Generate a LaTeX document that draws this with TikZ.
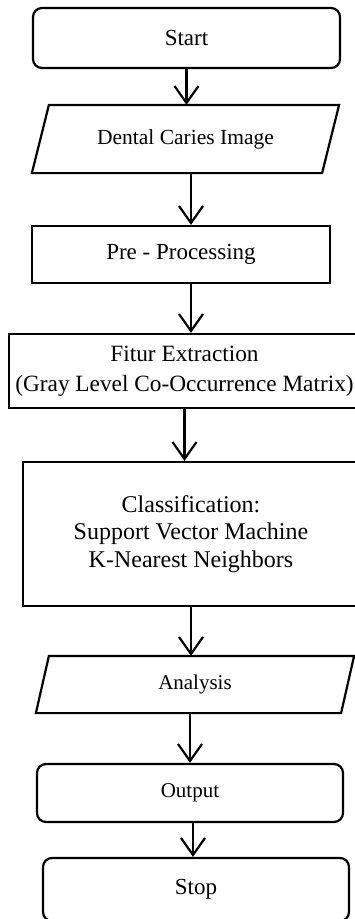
\documentclass[tikz,border=0pt]{standalone}
\usepackage{fontspec}
\setmainfont{Liberation Serif}
\usetikzlibrary{arrows.meta}

\begin{document}
\begin{tikzpicture}[x=1pt, y=-1pt, line width=2.2pt,
	every node/.style={font=\fontsize{21}{28}\selectfont, align=center, inner sep=0pt},
	terminal/.style={draw, rectangle, rounded corners=9pt},
	process/.style={draw, rectangle},
	io/.style={rectangle},
	flow/.style={-{Straight Barb[length=17pt, width=24pt]}}]
		%\draw[lightgray] (0, 0) grid (355, 919);
		\useasboundingbox (0, 0) rectangle (355, 919);
		\clip (0, 0) rectangle (355, 919);
		
		\node[terminal, minimum width=307pt, minimum height=60pt, font=\fontsize{23}{28}\selectfont] (start) at (186.5, 38) {Start};
		\node[io, minimum width=288pt, minimum height=66pt, font=\fontsize{21.5}{28}\selectfont] (image) at (185.5, 139) {Dental Caries Image};
		\node[process, minimum width=298pt, minimum height=57pt, font=\fontsize{23}{28}\selectfont] (prep) at (181, 254.5) {Pre - Processing};
		\node[process, minimum width=351pt, minimum height=74pt, font=\fontsize{23.3}{30}\selectfont] (glcm) at (184.5, 371) {Fitur Extraction\\(Gray Level Co-Occurrence Matrix)};
		\node[process, minimum width=336pt, minimum height=144pt, font=\fontsize{24}{27.5}\selectfont] (class) at (191, 534) {Classification:\\Support Vector Machine\\K-Nearest Neighbors};
		\node[io, minimum width=303pt, minimum height=55pt] (analysis) at (195, 684.5) {Analysis};
		\node[terminal, minimum width=306pt, minimum height=58pt] (output) at (190, 793) {Output};
		\node[terminal, minimum width=306pt, minimum height=63pt, font=\fontsize{23}{28}\selectfont] (stop) at (196, 889.5) {Stop};
		
		% parallelograms
		\draw ([xshift=-8.5pt]image.south west) -- ([xshift=8.5pt]image.north west) -- ([xshift=8.5pt]image.north east) -- ([xshift=-8.5pt]image.south east) -- cycle;
		\draw ([xshift=-6.5pt]analysis.south west) -- ([xshift=6.5pt]analysis.north west) -- ([xshift=6.5pt]analysis.north east) -- ([xshift=-6.5pt]analysis.south east) -- cycle;
		
		\draw[flow] (start.south) -- (start.south |- image.north);
		\draw[flow] ([xshift=5.5pt]image.south) -- ([xshift=5.5pt]prep.north -| image.south);
		\draw[flow] ([xshift=10pt]prep.south) -- ([xshift=10pt]glcm.north -| prep.south);
		\draw[flow] (glcm.south) -- (glcm.south |- class.north);
		\draw[flow] (class.south) -- (class.south |- analysis.north);
		\draw[flow] ([xshift=-5pt]analysis.south) -- ([xshift=-5pt]output.north -| analysis.south);
		\draw[flow] ([xshift=3pt]output.south) -- ([xshift=3pt]stop.north -| output.south);
	\end{tikzpicture}
\end{document}
